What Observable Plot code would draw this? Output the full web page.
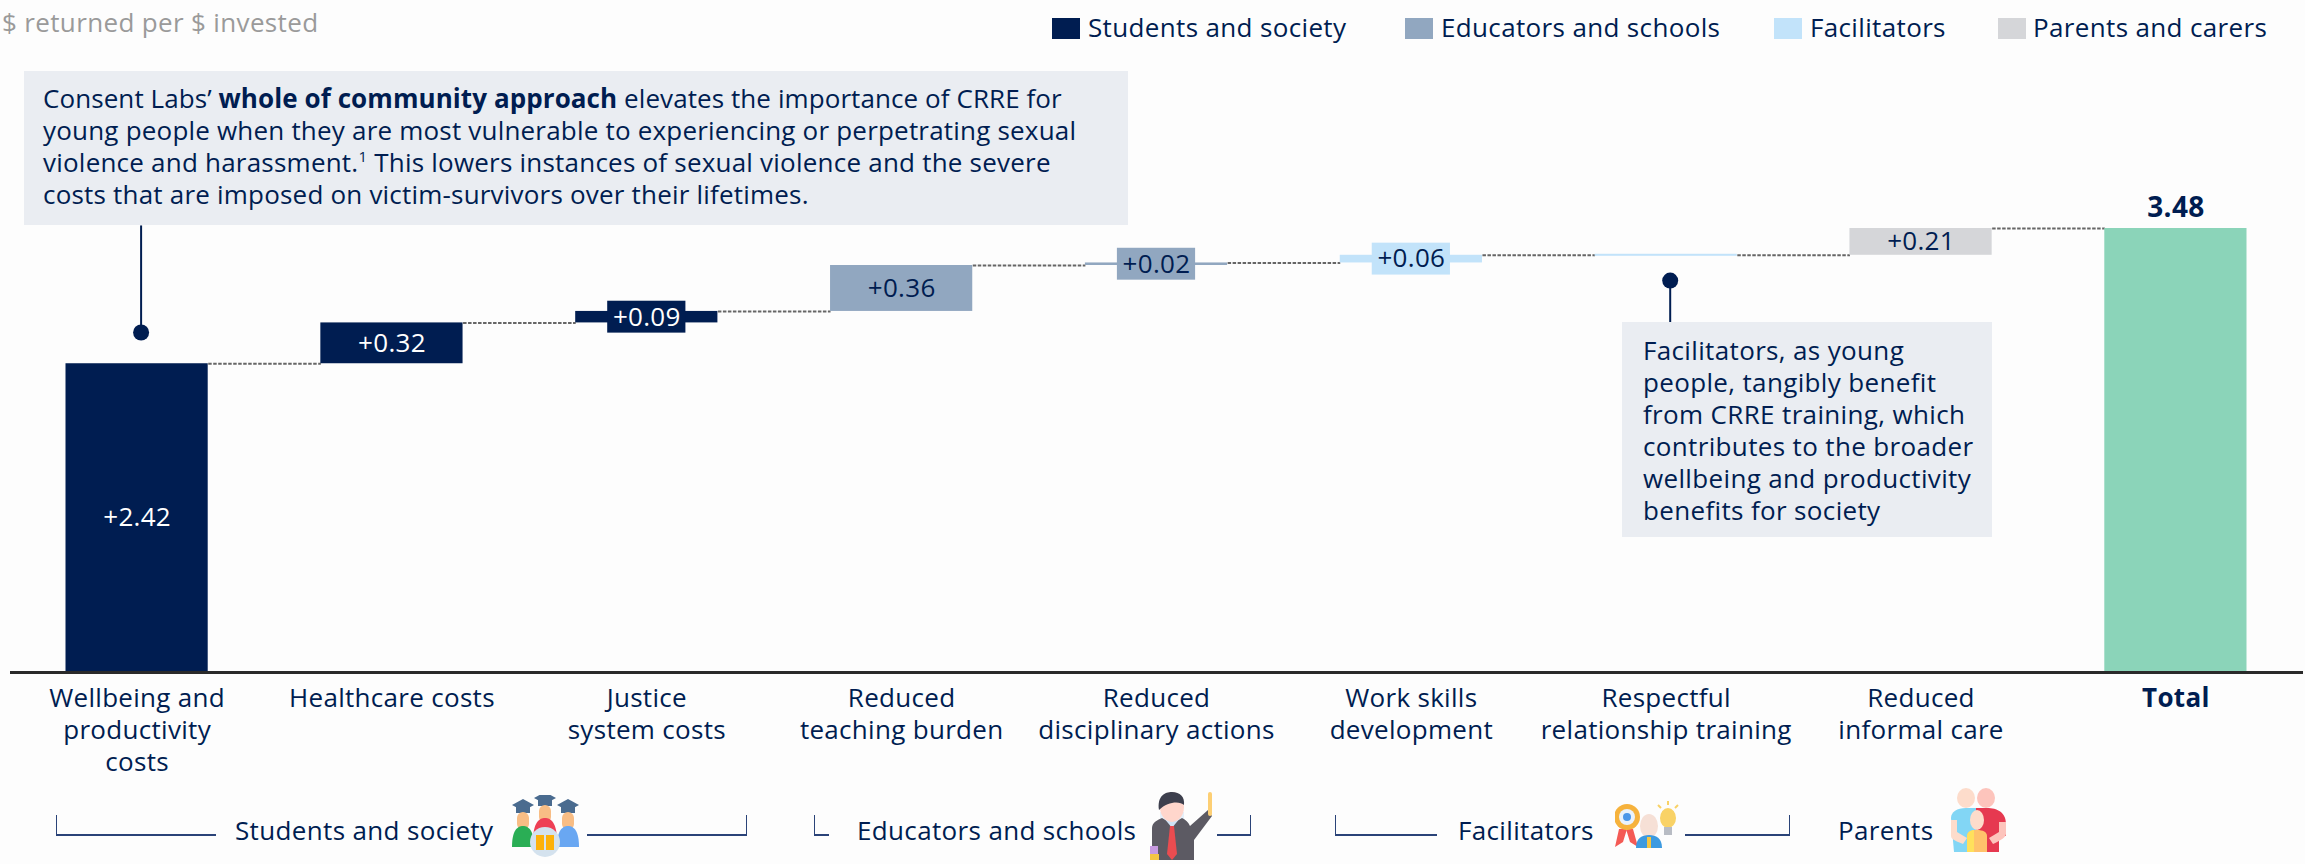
<!DOCTYPE html>
<html>
<head>
<meta charset="utf-8">
<script src="https://cdn.jsdelivr.net/npm/d3@7"></script>
<script src="https://cdn.jsdelivr.net/npm/@observablehq/plot@0.6"></script>
<style>
html,body{margin:0;padding:0;background:#fdfdfd;}
body{position:relative;width:2305px;height:864px;overflow:hidden;font-family:"Open Sans",sans-serif;color:#001d51;}
.t{position:absolute;white-space:nowrap;font-size:26px;letter-spacing:.35px;line-height:32px;color:#001d51;}
.box{position:absolute;background:#eaedf2;}
.sw{position:absolute;width:28px;height:21px;top:18px;}
.br{position:absolute;top:815px;height:21px;border-bottom:2px solid #2a4378;box-sizing:border-box;}
.br.l{border-left:1.5px solid #2a4378;}
.br.r{border-right:1.5px solid #2a4378;}
svg.icon{position:absolute;}
#chart{position:absolute;left:0;top:0;}
</style>
</head>
<body>
<div id="chart"></div>
<script>
const categories = ["Wellbeing and\nproductivity\ncosts","Healthcare costs","Justice\nsystem costs","Reduced\nteaching burden","Reduced\ndisciplinary actions","Work skills\ndevelopment","Respectful\nrelationship training","Reduced\ninformal care","Total"];
const values = [2.42,0.32,0.09,0.36,0.02,0.06,0,0.21];
const total = 3.48;
const groupOf = ["Students and society","Students and society","Students and society","Educators and schools","Educators and schools","Facilitators","Facilitators","Parents and carers","Total"];
const groups = ["Students and society","Educators and schools","Facilitators","Parents and carers","Total"];
const groupColors = ["#001d51","#91a7c0","#c2e3fa","#d5d6d9","#8bd4b9"];
const navy = "#001d51";
const labelHalf = 0.125;
const fontFamily = "'Open Sans', sans-serif";

const xOptions = {type:"band",domain:categories,range:[65.5,2246.5],paddingInner:0.442,paddingOuter:0,align:0.5,round:false};
const xs = Plot.scale({x:xOptions});
const bw = xs.bandwidth;

const ends = Array.from(d3.cumsum(values));
const rows = values.map((v,i)=>({cat:categories[i],group:groupOf[i],value:v,start:ends[i]-v,end:ends[i],mid:ends[i]-v/2,dark:groupOf[i]==="Students and society"}));
rows.push({cat:"Total",group:"Total",value:total,start:0,end:total,mid:total/2,dark:false});
// connector runs between bar edges; Plot adds half a bandwidth to band-scale links itself
const links = rows.slice(0,-1).map((r,i)=>({a:xs.apply(r.cat)+bw/2,b:xs.apply(rows[i+1].cat)-bw/2,y:r.end}));
const small = rows.filter(r=>r.value>0 && r.value<0.1);
const labelled = rows.filter(r=>r.value>0 && r.group!=="Total");
const stemA = [{cat:categories[0],top:3.50,dot:2.665}];
const stemB = [{cat:categories[6],top:3.072,dot:2.735}];

const plot = Plot.plot({
  width:2305,height:864,marginTop:228,marginBottom:192,marginLeft:10,marginRight:2,
  style:{background:"transparent",fontFamily,letterSpacing:"0.3px"},
  x:xOptions,
  y:{domain:[0,total],axis:null},
  color:{domain:groups,range:groupColors},
  marks:[
    Plot.link(links,{x1:{value:"a",scale:null},x2:{value:"b",scale:null},y1:"y",y2:"y",stroke:"#666666",strokeWidth:2,strokeDasharray:"3.5,1.5"}),
    Plot.barY(rows.filter(r=>r.value>0),{x:"cat",y1:"start",y2:"end",fill:"group"}),
    Plot.barY(rows.filter(r=>r.value===0),{x:"cat",y1:"start",y2:"end",fill:"group",insetTop:-1,insetBottom:-1}),
    Plot.barY(small,{x:"cat",y1:d=>d.mid-labelHalf,y2:d=>d.mid+labelHalf,fill:"group",insetLeft:32,insetRight:32}),
    Plot.text(labelled.filter(r=>r.dark),{x:"cat",y:"mid",text:d=>"+"+d3.format(".2f")(d.value),fill:"white",fontSize:26}),
    Plot.text(labelled.filter(r=>!r.dark),{x:"cat",y:"mid",text:d=>"+"+d3.format(".2f")(d.value),fill:navy,fontSize:26}),
    Plot.text([rows[rows.length-1]],{x:"cat",y:"end",text:d=>d3.format(".2f")(d.value),fill:navy,fontSize:28,fontWeight:700,dy:-20}),
    Plot.ruleY([0],{stroke:"#2a2a2a",strokeWidth:3}),
    Plot.axisX({ticks:categories.slice(0,-1),tickSize:0,tickPadding:12,fontSize:26,lineHeight:1.23,fill:navy,label:null,lineAnchor:"top"}),
    Plot.axisX({ticks:["Total"],tickSize:0,tickPadding:12,fontSize:26,lineHeight:1.23,fontWeight:700,fill:navy,label:null,lineAnchor:"top"}),
    Plot.ruleX(stemA,{x:"cat",y1:"top",y2:"dot",dx:4,stroke:navy,strokeWidth:2}),
    Plot.ruleX(stemB,{x:"cat",y1:"top",y2:"dot",dx:4,stroke:navy,strokeWidth:2}),
    Plot.dot(stemA,{x:"cat",y:"dot",dx:4,r:8,fill:navy}),
    Plot.dot(stemB,{x:"cat",y:"top",dx:4,r:8,fill:navy}),
  ]
});
document.getElementById("chart").appendChild(plot);
</script>
<script>
// html overlay: title, legend, callouts, group brackets
const add=(cls,css,html)=>{const e=document.createElement("div");e.className=cls;e.style.cssText=css;if(html)e.innerHTML=html;document.body.appendChild(e);return e;};
add("t","left:2px;top:6px;color:#9a9a9a;","$ returned per $ invested");
const legendX=[[1052,1088],[1405,1441],[1774,1810],[1998,2033]];
groups.slice(0,4).forEach((g,i)=>{
  add("sw",`left:${legendX[i][0]}px;background:${groupColors[i]};`);
  add("t",`left:${legendX[i][1]}px;top:11px;`,g);
});
add("box","left:24px;top:71px;width:1104px;height:154px;");
["Consent Labs’ <b>whole of community approach</b> elevates the importance of CRRE for",
 "young people when they are most vulnerable to experiencing or perpetrating sexual",
 "violence and harassment.<sup style='font-size:15px;line-height:0'>1</sup> This lowers instances of sexual violence and the severe",
 "costs that are imposed on victim-survivors over their lifetimes."].forEach((l,i)=>add("t",`left:43px;top:${82+i*32}px;letter-spacing:${[.08,.2,.22,.2][i]}px;`,l));
add("box","left:1622px;top:322px;width:370px;height:215px;");
["Facilitators, as young","people, tangibly benefit","from CRRE training, which","contributes to the broader","wellbeing and productivity","benefits for society"].forEach((l,i)=>add("t",`left:1643px;top:${334+i*32}px;`,l));
add("br l","left:56px;width:160px;");add("br r","left:587px;width:160px;");
add("br l","left:814px;width:15px;");add("br r","left:1217px;width:34px;");
add("br l","left:1335px;width:102px;");add("br r","left:1685px;width:105px;");
add("t","left:235px;top:814px;","Students and society");
add("t","left:857px;top:814px;","Educators and schools");
add("t","left:1458px;top:814px;","Facilitators");
add("t","left:1838px;top:814px;","Parents");
const icon=(x,y,w,h,body)=>{document.body.insertAdjacentHTML("beforeend",`<svg class="icon" style="left:${x}px;top:${y}px" width="${w}" height="${h}" viewBox="0 0 ${w} ${h}">${body}</svg>`);};
const grad=(cx,cy,body)=>`<path d="M${cx-11} ${cy-12}L${cx} ${cy-18}L${cx+11} ${cy-12}L${cx} ${cy-6}Z" fill="#4a6b8f"/><rect x="${cx-7}" y="${cy-10}" width="14" height="6" fill="#4a6b8f"/><rect x="${cx-6}" y="${cy-5}" width="12" height="18" rx="6" fill="#f8bd85"/>${body}`;
icon(511,795,70,62,
 grad(12,22,`<path d="M1 52C1 36 6 31 12 31C18 31 23 36 23 52Z" fill="#2aae55"/>`)+
 grad(57,22,`<path d="M46 52C46 36 51 31 57 31C63 31 68 36 68 52Z" fill="#69a7f2"/>`)+
 grad(34,15,`<path d="M22 46C22 28 28 23 34 23C40 23 46 28 46 46Z" fill="#ee3f55"/>`)+
 `<ellipse cx="34" cy="47" rx="15" ry="15" fill="#d4e2ee"/><rect x="25" y="40" width="8" height="15" fill="#fdb10a"/><rect x="35" y="40" width="8" height="15" fill="#fdb10a"/>`);
icon(1150,792,72,70,
 `<rect x="10" y="20" width="24" height="42" fill="#e6f0fa"/><path d="M2 68V36C2 30 8 28 12 26L22 32L32 26C36 28 38 30 40 34L58 18L62 24L44 48V68Z" fill="#5c5a63"/><path d="M14 26H30L22 36Z" fill="#cfe3f5"/><path d="M20 34H24L27 62L22 68L17 62Z" fill="#ea4c50"/><ellipse cx="22" cy="15" rx="12" ry="15" fill="#ffd6cc"/><path d="M9 18C7 4 15 0 22 0C30 0 35 5 34 13C30 9 18 9 9 18Z" fill="#3d3f4d"/><rect x="58" y="0" width="4" height="24" rx="2" fill="#fdcf74"/><rect x="0" y="54" width="8" height="8" fill="#c79ae0"/><rect x="0" y="62" width="9" height="6" fill="#f4c542"/>`);
icon(1615,799,68,50,
 `<path d="M4 30L0 48L8 43L12 30ZM18 30L23 48L15 43L11 30Z" fill="#f45a55"/><circle cx="12" cy="18" r="13" fill="#f6b23c"/><circle cx="12" cy="18" r="8" fill="#eaf2fb"/><circle cx="12" cy="18" r="4" fill="#4c97e8"/><ellipse cx="34" cy="27" rx="9" ry="12" fill="#f6e0d6"/><path d="M21 49C21 39 27 36 34 36C41 36 47 39 47 49Z" fill="#3d9ae0"/><rect x="32" y="38" width="4" height="11" fill="#f4c542"/><ellipse cx="53" cy="19" rx="8" ry="10" fill="#f9d266"/><rect x="49" y="28" width="8" height="8" fill="#b8bcc4"/><path d="M53 2V6M43 6L46 9M63 6L60 9" stroke="#f9d266" stroke-width="2"/>`);
icon(1949,788,58,66,
 `<ellipse cx="17" cy="10" rx="9" ry="10" fill="#fddccb"/><ellipse cx="37" cy="10" rx="9" ry="10" fill="#fdc4bc"/><path d="M2 30C2 24 8 20 17 20H28V64H5Z" fill="#82d6f5"/><path d="M27 20H38C48 20 57 24 57 36V48H50V64H27Z" fill="#e63950"/><path d="M2 32V48C2 52 10 54 14 56L18 50L8 44V32Z" fill="#fddccb"/><path d="M57 34V46C57 50 48 54 44 56L40 50L50 44V34Z" fill="#fdc4bc"/><ellipse cx="28" cy="32" rx="7" ry="10" fill="#fddccb"/><path d="M18 64V48C18 44 22 42 28 42C34 42 38 44 38 48V64Z" fill="#ffc26b"/><path d="M18 64V48C18 44 22 42 25 42V64Z" fill="#ffe05c"/>`);
</script>
</body>
</html>
